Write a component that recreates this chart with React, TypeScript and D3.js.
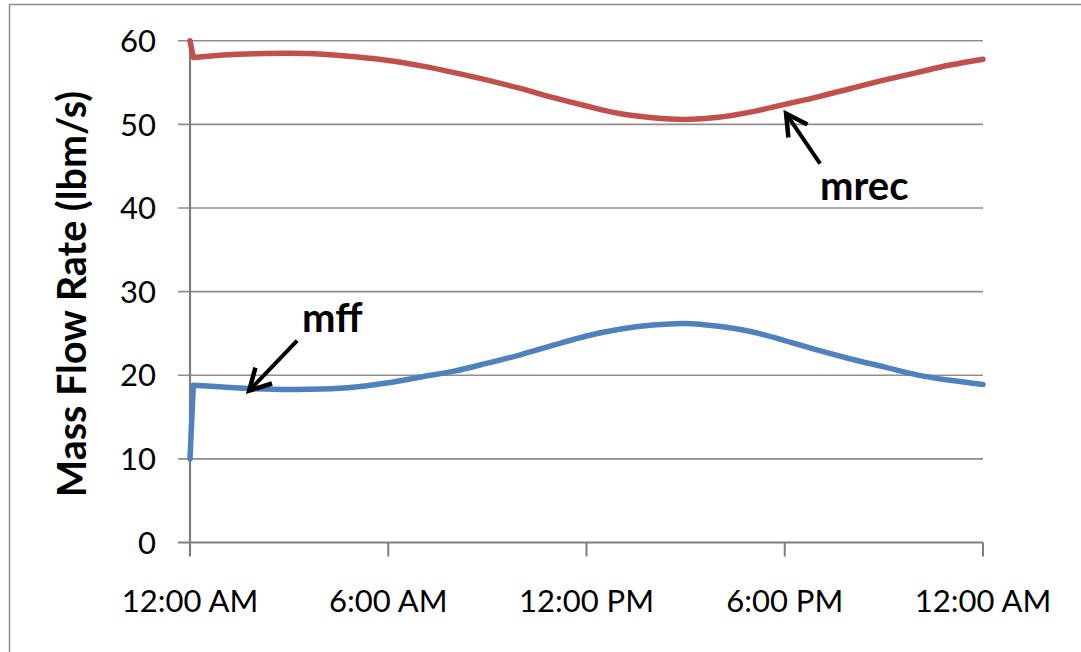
import React from "react";
import * as d3 from "d3";

// Hours since midnight for each sample
const hours = [0, 0.1, 1, 2, 3, 4, 5, 6, 7, 8, 9, 10, 11, 12, 13, 14, 15, 16, 17, 18, 19, 20, 21, 22, 23, 24];
// Recirculation mass flow (lbm/s)
const mrec = [60, 58.0, 58.3, 58.45, 58.5, 58.4, 58.1, 57.65, 57.0, 56.2, 55.3, 54.3, 53.2, 52.2, 51.3, 50.8, 50.6, 50.85, 51.5, 52.4, 53.3, 54.3, 55.3, 56.2, 57.1, 57.8];
// Feed-forward mass flow (lbm/s)
const mff = [10, 18.8, 18.6, 18.4, 18.3, 18.35, 18.6, 19.1, 19.8, 20.5, 21.45, 22.45, 23.6, 24.7, 25.5, 26.0, 26.2, 25.85, 25.2, 24.15, 23.0, 21.95, 21.0, 20.05, 19.4, 18.9];

const yTicks = [0, 10, 20, 30, 40, 50, 60];
const xTickHours = [0, 6, 12, 18, 24];
const xTickLabels = ["12:00 AM", "6:00 AM", "12:00 PM", "6:00 PM", "12:00 AM"];

// Callouts: arrow tip in data units, tail offset and label in px
const callouts = [
  { name: "mff", h: 1.79, v: 18.15, dx: 48, dy: -50, lx: 302, ly: 332 },
  { name: "mrec", h: 18.04, v: 51.3, dx: 34, dy: 50, lx: 820, ly: 200 },
];

const W = 1081;
const H = 652;

export default function App() {
  const x = d3.scaleLinear().domain([0, 24]).range([190, 983]);
  const y = d3.scaleLinear().domain([0, 60]).range([542.5, 40.8]);

  // startup step drawn straight, the rest of the day smoothed
  const smooth = d3
    .line<[number, number]>()
    .x((d) => x(d[0]))
    .y((d) => y(d[1]))
    .curve(d3.curveCatmullRom.alpha(0.5));
  const seriesPath = (vals: number[]) => {
    const pts = hours.map((h, i) => [h, vals[i]] as [number, number]);
    const rest = smooth(pts.slice(1)) || "";
    return `M${x(pts[0][0])},${y(pts[0][1])}L${rest.slice(1)}`;
  };

  const font = "Lato, 'Open Sans', sans-serif";

  return (
    <svg
      width={W}
      height={H}
      style={{ position: "absolute", left: 0, top: 0, background: "#fff" }}
    >
      <rect x={9.5} y={4.5} width={1200} height={800} fill="#fff" stroke="#8c8c8c" strokeWidth={1.5} />

      {/* horizontal gridlines with outward ticks */}
      {yTicks.map((t) => (
        <line
          key={"g" + t}
          x1={178}
          x2={x(24)}
          y1={y(t)}
          y2={y(t)}
          stroke={t === 0 ? "#7f7f7f" : "#8e8e8e"}
          strokeWidth={t === 0 ? 2.2 : 1.6}
        />
      ))}
      {/* y axis */}
      <line x1={x(0)} x2={x(0)} y1={y(60)} y2={y(0) + 14} stroke="#7f7f7f" strokeWidth={2.2} />
      {/* x ticks */}
      {xTickHours.slice(1).map((h) => (
        <line key={"xt" + h} x1={x(h)} x2={x(h)} y1={y(0)} y2={y(0) + 14} stroke="#7f7f7f" strokeWidth={2} />
      ))}

      {/* y tick labels */}
      {yTicks.map((t) => (
        <text
          key={"yl" + t}
          x={156}
          y={y(t)}
          dy="0.36em"
          textAnchor="end"
          fontFamily={font}
          fontSize={31}
          fill="#000"
        >
          {t}
        </text>
      ))}
      {/* x tick labels */}
      {xTickHours.map((h, i) => (
        <text
          key={"xl" + i}
          x={x(h)}
          y={612}
          textAnchor="middle"
          fontFamily={font}
          fontSize={31}
          fill="#000"
        >
          {xTickLabels[i]}
        </text>
      ))}

      {/* axis title */}
      <text
        transform={`translate(86,${294}) rotate(-90)`}
        textAnchor="middle"
        fontFamily={font}
        fontWeight="bold"
        fontSize={39.5}
        fill="#000"
      >
        Mass Flow Rate (lbm/s)
      </text>

      {/* series */}
      <path d={seriesPath(mrec)} fill="none" stroke="#C0504D" strokeWidth={5.5} strokeLinejoin="round" strokeLinecap="round" />
      <path d={seriesPath(mff)} fill="none" stroke="#4F81BD" strokeWidth={5.5} strokeLinejoin="round" strokeLinecap="round" />

      {/* callouts */}
      {callouts.map((c) => {
        const tx = x(c.h);
        const ty = y(c.v);
        const ang = Math.atan2(c.dy, c.dx);
        const len = 24;
        const spread = 0.5;
        const a1x = tx + len * Math.cos(ang - spread);
        const a1y = ty + len * Math.sin(ang - spread);
        const a2x = tx + len * Math.cos(ang + spread);
        const a2y = ty + len * Math.sin(ang + spread);
        return (
          <g key={c.name}>
            <line x1={tx + c.dx} y1={ty + c.dy} x2={tx} y2={ty} stroke="#000" strokeWidth={4} />
            <polyline
              points={`${a1x},${a1y} ${tx},${ty} ${a2x},${a2y}`}
              fill="none"
              stroke="#000"
              strokeWidth={4.5}
              strokeLinejoin="miter"
            />
            <text x={c.lx} y={c.ly} fontFamily={font} fontWeight="bold" fontSize={40} fill="#000">
              {c.name}
            </text>
          </g>
        );
      })}
    </svg>
  );
}
